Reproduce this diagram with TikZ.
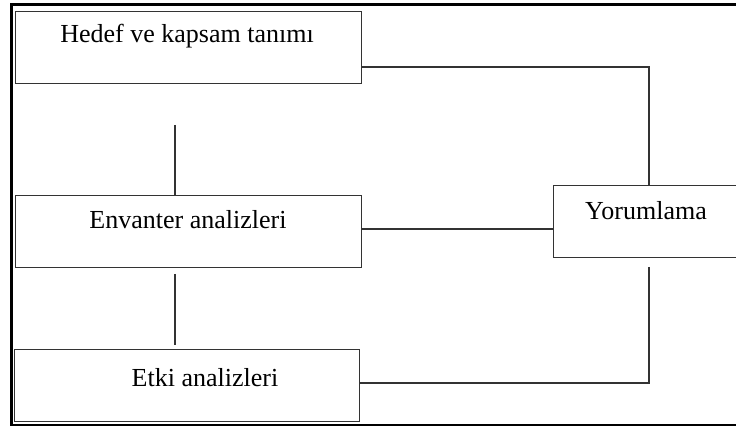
\documentclass[tikz,border=0pt]{standalone}
\usepackage{fontspec}
\setmainfont{Liberation Serif}
\begin{document}
\begin{tikzpicture}[x=1pt,y=-1pt,
  stagebox/.style={draw=black!80,line width=1.2pt,inner sep=0pt,anchor=north west},
  stagetext/.style={font=\fontsize{26}{28}\selectfont,anchor=base,inner sep=0pt},
  link/.style={draw=black!80,line width=1.2pt}]
\useasboundingbox (0,0) rectangle (736,427);
% outer frame (right side runs past the page edge)
\draw[line width=2.2pt] (740,4.5) -- (11.5,4.5) -- (11.5,425) -- (740,425);
% stage boxes
\node[stagebox,minimum width=346pt,minimum height=72pt] (hedef) at (15,11) {};
\node[stagebox,minimum width=346pt,minimum height=72pt] (envanter) at (15,195) {};
\node[stagebox,minimum width=345pt,minimum height=72pt] (etki) at (14,349) {};
\node[stagebox,minimum width=200pt,minimum height=72pt] (yorum) at (553,185) {};
% labels
\node[stagetext] (thedef) at (187,43) {Hedef ve kapsam tanımı};
\node[stagetext] (tenv) at (188,229) {Envanter analizleri};
\node[stagetext] (tetki) at (205,387) {Etki analizleri};
\node[stagetext] (tyorum) at (646,220) {Yorumlama};
% free ends of the open connectors
\coordinate (c1) at (649,67);
\coordinate (c2) at (649,383);
\coordinate (c3) at (649,267);
\coordinate (v1) at (175,125);
\coordinate (v2) at (175,274);
\coordinate (v3) at (175,345);
% connectors
\draw[link] (hedef.east |- c1) -- (c1) -- (yorum.north -| c1);
\draw[link] (envanter.east |- 0,229) -- (yorum.west |- 0,229);
\draw[link] (c3) -- (c2) -- (etki.east |- c2);
\draw[link] (v1) -- (envanter.north -| v1);
\draw[link] (v2) -- (v3);
\end{tikzpicture}
\end{document}
